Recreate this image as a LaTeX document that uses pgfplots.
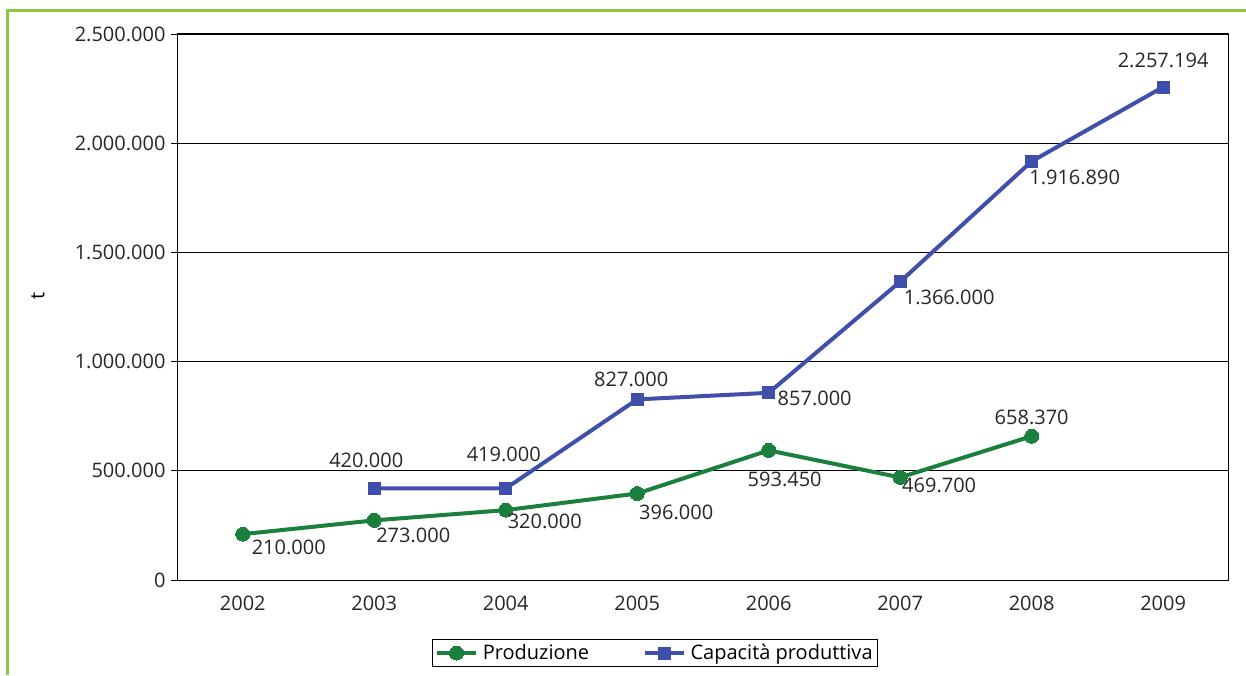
\documentclass[border=0pt]{standalone}
\usepackage{pgfplots}
\pgfplotsset{compat=1.18}
\usepackage{pgfplotstable}
\usepackage{fontspec}
\setmainfont{Open Sans}
\definecolor{prodgreen}{HTML}{1B7F3D}
\definecolor{capblue}{HTML}{3F4FAA}
\definecolor{framegreen}{HTML}{8DC63F}
\pgfplotstableread{
x y lab dx dy
0 210000 210.000 46 -13
1 273000 273.000 39 -15
2 320000 320.000 39 -11
3 396000 396.000 39 -19
4 593450 593.450 16 -29
5 469700 469.700 39 -8
6 658370 658.370 0 19
}\prod
\pgfplotstableread{
x y lab dx dy
1 420000 420.000 -8 28
2 419000 419.000 -2 34
3 827000 827.000 -6 20
4 857000 857.000 46 -6
5 1366000 1.366.000 49 -16
6 1916890 1.916.890 43 -16
7 2257194 2.257.194 0 27
}\capac
\begin{document}
\begin{tikzpicture}[x=1pt,y=1pt]
\useasboundingbox (0,0) rectangle (1246,675);
\draw[framegreen, line width=3pt] (7,0) -- (7,664) -- (1246,664);
\begin{axis}[
  at={(177pt,95pt)}, anchor=south west,
  scale only axis, width=1052pt, height=546pt,
  xmin=-0.5, xmax=7.5, ymin=0, ymax=2500000,
  xtick={0,...,7}, xticklabels={2002,2003,2004,2005,2006,2007,2008,2009},
  major x tick style={draw=none},
  extra x ticks={-0.5,0.5,1.5,2.5,3.5,4.5,5.5,6.5,7.5},
  extra x tick labels={},
  extra x tick style={major tick length=8pt, tick style={black, thick}, grid=none, tick align=outside},
  ytick={0,500000,1000000,1500000,2000000,2500000},
  yticklabels={0,500.000,1.000.000,1.500.000,2.000.000,2.500.000},
  scaled y ticks=false,
  ymajorgrids, grid style={black, line width=0.8pt},
  y tick style={black, thick}, major tick length=6pt, tick align=outside,
  tick pos=left,
  axis line style={black, line width=1pt},
  ticklabel style={font=\fontsize{20}{24}\selectfont, text=black!85},
  xticklabel style={yshift=-6pt},
  yticklabel style={xshift=-2pt},
  ylabel={t},
  every axis y label/.style={at={(-139pt,284pt)}, rotate=90, font=\fontsize{20}{24}\selectfont},
  clip=false,
  legend style={at={(0.4544,-0.1337)}, anchor=center, legend columns=2, draw=black, line width=0.8pt,
    font=\fontsize{20}{24}\selectfont,
    /tikz/every odd column/.append style={column sep=3pt},
    /tikz/every even column/.append style={column sep=52pt},
    inner sep=3pt},
  legend image code/.code={\draw[#1, line width=4pt] (0cm,0cm) -- (1.35cm,0cm); \draw[#1, mark repeat=2, mark phase=2] plot coordinates {(0cm,0cm) (0.675cm,0cm) (1.35cm,0cm)};},
  nodes near coords,
  point meta=explicit symbolic,
  visualization depends on={\thisrow{dx} \as \ddx},
  visualization depends on={\thisrow{dy} \as \ddy},
  every node near coord/.style={anchor=center, xshift=\ddx pt, yshift=\ddy pt, font=\fontsize{20}{24}\selectfont, text=black!85},
]
\addplot[prodgreen, line width=4pt, mark=*, mark size=7pt, mark options={solid, line width=0pt, fill=prodgreen}] table[x=x, y=y, meta=lab] {\prod};
\addlegendentry{Produzione}
\addplot[capblue, line width=4pt, mark=square*, mark size=6pt, mark options={solid, line width=0pt, fill=capblue}] table[x=x, y=y, meta=lab] {\capac};
\addlegendentry{Capacità produttiva}
\end{axis}
\end{tikzpicture}
\end{document}
